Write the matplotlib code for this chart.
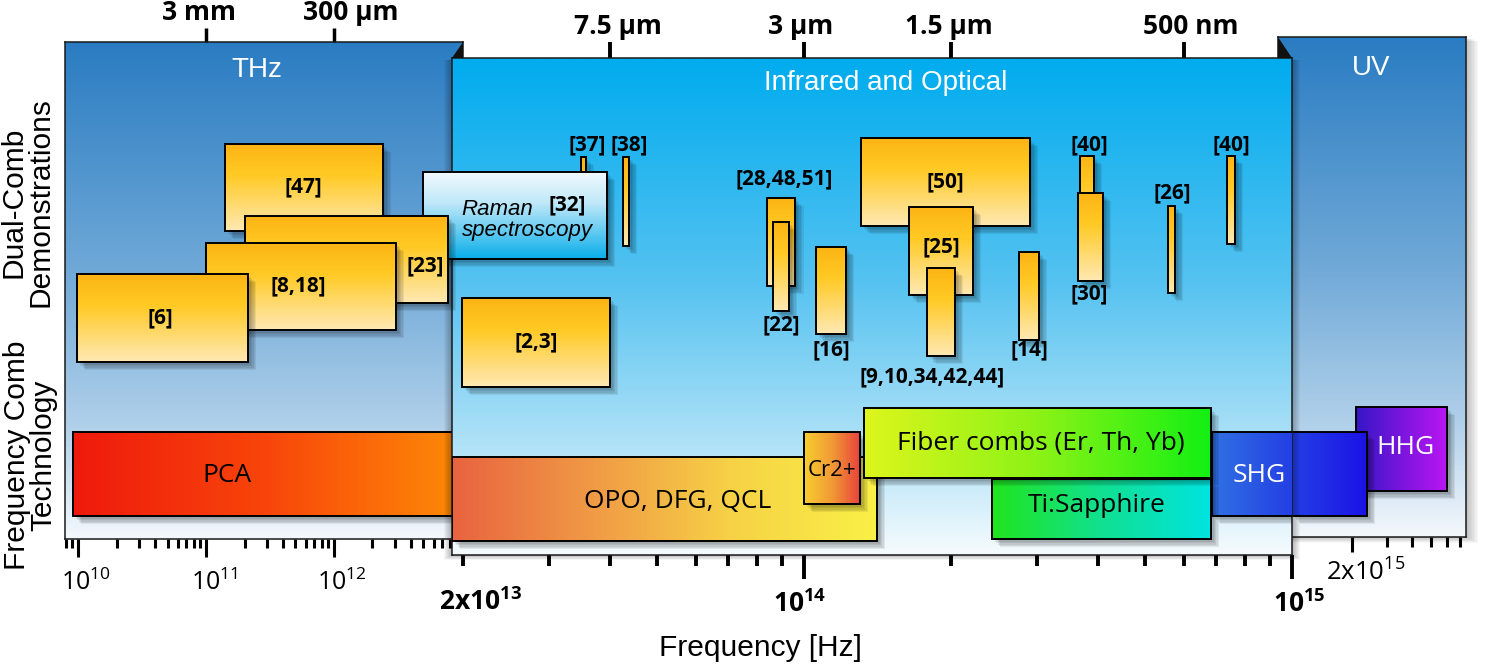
import numpy as np
import matplotlib.pyplot as plt
import matplotlib.patheffects as pe
from matplotlib.colors import LinearSegmentedColormap
from matplotlib.patches import Rectangle, Polygon
from matplotlib.ticker import LogLocator, NullLocator, NullFormatter
from matplotlib.transforms import ScaledTranslation

plt.rcParams['font.family'] = ['Open Sans', 'DejaVu Sans']
plt.rcParams['mathtext.fontset'] = 'custom'
plt.rcParams['mathtext.rm'] = 'Open Sans'
plt.rcParams['mathtext.bf'] = 'Open Sans:bold'
plt.rcParams['mathtext.it'] = 'Open Sans:italic'

# ---------------- data (frequencies in Hz) ----------------
# dual-comb demonstrations in the THz panel
thz_refs = ['[47]', '[23]', '[8,18]', '[6]']
thz_lo = [1.41e11, 2.02e11, 1.0e11, 9.8e9]
thz_hi = [2.4e12, 7.8e12, 3.05e12, 2.13e11]

# dual-comb demonstrations in the infrared / optical panel
ir_refs = ['[37]', '[38]', '[2,3]', '[28,48,51]', '[22]', '[16]', '[50]', '[25]',
           '[9,10,34,42,44]', '[14]', '[40]', '[30]', '[26]', '[40]']
ir_lo = [3.49e13, 4.26e13, 1.99e13, 8.4e13, 8.64e13, 1.06e14, 1.31e14, 1.64e14,
         1.79e14, 2.76e14, 3.68e14, 3.64e14, 5.57e14, 7.36e14]
ir_hi = [3.57e13, 4.38e13, 4.0e13, 9.6e13, 9.31e13, 1.22e14, 2.9e14, 2.22e14,
         2.04e14, 3.03e14, 3.93e14, 4.1e14, 5.76e14, 7.64e14]

raman_lo, raman_hi = 1.66e13, 3.95e13

# frequency comb technologies
tech = ['PCA', 'OPO, DFG, QCL', 'Cr2+', 'Fiber combs (Er, Th, Yb)', 'Ti:Sapphire', 'SHG', 'HHG']
tech_lo = [9.15e9, 1.9e13, 1.0e14, 1.33e14, 2.43e14, 6.86e14, 2.1e15]
tech_hi = [1.02e13, 1.41e14, 1.30e14, 6.82e14, 6.82e14, 2.38e15, 6.0e15]

# wavelength markers on top
wl_labels = ['3 mm', '300 µm', '7.5 µm', '3 µm', '1.5 µm', '500 nm']
wl_m = [3e-3, 300e-6, 7.5e-6, 3e-6, 1.5e-6, 500e-9]
c = 3e8

# ---------------- layout (vertical rows, 0 = top of figure) ----------------
thz_rows = [(144, 231), (216, 303), (243, 330), (274, 362)]
thz_lab = [(5.73e11, 187), (5.14e12, 266), (5.24e11, 286), (4.37e10, 318)]
ir_rows = [(157, 250), (157, 246), (298, 387), (198, 286), (222, 311), (247, 334),
           (138, 226), (207, 295), (268, 356), (252, 340), (156, 240), (193, 281),
           (206, 293), (156, 244)]
ir_lab = [(3.59e13, 145), (4.38e13, 145), (2.83e13, 342), (9.1e13, 179), (9.0e13, 325),
          (1.14e14, 350), (1.95e14, 182), (1.91e14, 247), (1.83e14, 377), (2.9e14, 350),
          (3.85e14, 145), (3.85e14, 294), (5.68e14, 193), (7.5e14, 145)]
raman_rows = (172, 259)
tech_rows = [(432, 516), (457, 541), (432, 504), (408, 478), (479, 539), (432, 516), (407, 491)]
tech_lab = [(1.46e11, 475), (5.5e13, 501), (1.14e14, 471), (3.06e14, 443), (3.98e14, 505),
            (8.55e14, 476), (3.7e15, 447)]

W, H = 1500, 667
fig = plt.figure(figsize=(15, 6.67), dpi=100)


def px_axes(x0, x1, y0, y1, z):
    return fig.add_axes([x0 / W, 1 - y1 / H, (x1 - x0) / W, (y1 - y0) / H], zorder=z)


thz = px_axes(65, 463, 42, 539, 1)
uv = px_axes(1278, 1466, 37, 537, 1)
ir = px_axes(452, 1292, 58, 555, 2)
thz_front = px_axes(65, 463, 42, 539, 3)

for ax, lim, rows in [(thz, (7.9e9, 1.02e13), (539, 42)),
                      (thz_front, (7.9e9, 1.02e13), (539, 42)),
                      (ir, (1.9e13, 1e15), (555, 58)),
                      (uv, (8.5e14, 7.48e15), (537, 37))]:
    ax.set_xscale('log')
    ax.set_xlim(lim)
    ax.set_ylim(rows)
    ax.set_autoscale_on(False)
    ax.set_yticks([])
    for s in ax.spines.values():
        s.set_color('#1a1a1a')
        s.set_linewidth(1.1)
thz_front.set_axis_off()

blue = [(0, '#2a7cc2'), (0.45, '#6ea8d7'), (0.78, '#b2d1ea'), (1, '#f4f8fc')]
cyan = [(0, '#00acee'), (0.45, '#55c2f1'), (0.78, '#b0e2f7'), (1, '#f6fbfe')]
grad = np.linspace(0, 1, 256).reshape(-1, 1)
for ax, stops in [(thz, blue), (uv, blue), (ir, cyan)]:
    ax.imshow(grad, extent=(0, 1, 0, 1), transform=ax.transAxes, aspect='auto',
              cmap=LinearSegmentedColormap.from_list('p', stops), zorder=0,
              interpolation='bilinear')

# panel shadows and bevels
fig_px = fig.transFigure


def fig_rect(x0, y0, x1, y1, **kw):
    fig.add_artist(Rectangle((x0 / W, 1 - y1 / H), (x1 - x0) / W, (y1 - y0) / H,
                             transform=fig_px, **kw))


for k in range(1, 9):
    fig_rect(452 - k, 58 + k * 0.3, 1292 + k, 555 + k * 0.6, fc='k', ec='none', alpha=0.035, zorder=1.9)
    fig_rect(1278, 37 + k * 0.5, 1466 + k * 1.5, 537 + k * 0.7, fc='k', ec='none', alpha=0.03, zorder=0.9)

fig.add_artist(Polygon([(452 / W, 1 - 58 / H), (463 / W, 1 - 42 / H), (463 / W, 1 - 58 / H)],
                       transform=fig_px, fc='#111', ec='none', zorder=2.1))
fig.add_artist(Polygon([(1278 / W, 1 - 37 / H), (1278 / W, 1 - 58 / H), (1292 / W, 1 - 58 / H)],
                       transform=fig_px, fc='#111', ec='none', zorder=2.1))

shadow_fx = [pe.SimplePatchShadow(offset=(o, -o), shadow_rgbFace='k', alpha=0.07)
             for o in (1, 2, 3, 4, 5, 6)]


def bar(ax, lo, hi, rows, stops, horizontal, z, g=(0, 1), sides='ltrb', clip=True):
    top, bot = rows
    cmap = LinearSegmentedColormap.from_list('b', stops)
    n = 96
    if horizontal:
        xe, ye = np.geomspace(lo, hi, n + 1), np.array([top, bot])
        cv = np.linspace(g[0], g[1], n).reshape(1, -1)
    else:
        xe, ye = np.array([lo, hi]), np.linspace(top, bot, n + 1)
        cv = np.linspace(g[0], g[1], n).reshape(-1, 1)
    ax.add_patch(Rectangle((lo, top), hi - lo, bot - top, fc='k', ec='none', zorder=z,
                           path_effects=shadow_fx, clip_on=clip))
    ax.pcolormesh(xe, ye, cv, cmap=cmap, vmin=0, vmax=1, shading='flat', antialiased=False,
                  linewidth=0, zorder=z + 0.1, clip_on=clip)
    if sides == 'ltrb':
        ax.add_patch(Rectangle((lo, top), hi - lo, bot - top, fc='none', ec='k', lw=1.4,
                               zorder=z + 0.2, clip_on=clip))
    elif sides == 'ltb':
        ax.plot([hi, lo, lo, hi], [top, top, bot, bot], color='k', lw=1.4, zorder=z + 0.2,
                solid_joinstyle='miter')
    else:
        ax.plot([lo, hi, hi, lo], [top, top, bot, bot], color='k', lw=1.4, zorder=z + 0.2,
                solid_joinstyle='miter')


dual = [(0, '#fbb414'), (0.35, '#ffc923'), (1, '#fee8b2')]
tech_cols = [['#ee1a0c', '#f8450a', '#fd8a06'],
             ['#e8643f', '#f09a45', '#f6d245', '#f9ef46'],
             ['#f7cd2e', '#f19a35', '#e8453b'],
             ['#dcf51c', '#8cf216', '#14ef13'],
             ['#20e41e', '#10e090', '#00e3e0'],
             ['#3070e2', '#2340e4', '#1b12e6'],
             ['#3516c6', '#7a15dd', '#b815f2']]

lab_kw = dict(ha='center', va='center', fontsize=15, fontweight='bold', zorder=100)

# THz dual-comb boxes
for i, (ref, lo, hi) in enumerate(zip(thz_refs, thz_lo, thz_hi)):
    bar(thz_front, lo, hi, thz_rows[i], dual, False, 3 + i)
    thz_front.text(thz_lab[i][0], thz_lab[i][1], ref, **lab_kw)

# IR dual-comb boxes
for i, (ref, lo, hi) in enumerate(zip(ir_refs, ir_lo, ir_hi)):
    bar(ir, lo, hi, ir_rows[i], dual, False, 3 + i)
    ir.text(ir_lab[i][0], ir_lab[i][1], ref, **lab_kw)

# Raman box (reaches over the THz panel edge)
raman_cols = [(0, '#f0f9fd'), (0.35, '#bfe8f8'), (1, '#0aaee9')]
bar(ir, raman_lo, raman_hi, raman_rows, raman_cols, False, 30, clip=False)
raman_kw = dict(ha='left', va='baseline', fontsize=16, style='italic',
                family=['Liberation Sans'], zorder=100)
ir.text(1.99e13, 215, 'Raman', **raman_kw)
ir.text(1.99e13, 236, 'spectroscopy', **raman_kw)
ir.text(3.27e13, 205, '[32]', **lab_kw)

# technology bars
z_tech = {0: (thz, 3), 1: (ir, 40), 2: (ir, 41), 3: (ir, 46), 4: (ir, 45), 6: (uv, 3)}
for i in z_tech:
    ax, z = z_tech[i]
    bar(ax, tech_lo[i], tech_hi[i], tech_rows[i], tech_cols[i], True, z)

# SHG straddles the IR / UV panel boundary at 1e15 Hz
split = 1e15
px_left = (np.log10(split) - np.log10(tech_lo[5])) * 488
px_right = (np.log10(tech_hi[5]) - np.log10(split)) * 199
gsplit = px_left / (px_left + px_right)
bar(ir, tech_lo[5], split, tech_rows[5], tech_cols[5], True, 43, g=(0, gsplit), sides='ltb')
bar(uv, split, tech_hi[5], tech_rows[5], tech_cols[5], True, 10, g=(gsplit, 1), sides='trb')

tech_ax = [thz, ir, ir, ir, ir, ir, uv]
for i, name in enumerate(tech):
    col = 'white' if name in ('SHG', 'HHG') else 'black'
    fs = 16 if name == 'Cr2+' else 19
    tech_ax[i].text(tech_lab[i][0], tech_lab[i][1], name, ha='center', va='center',
                    fontsize=fs, color=col, zorder=100)

# panel titles
title_kw = dict(ha='center', va='center', fontsize=20, color='white',
                family=['Liberation Sans'], zorder=100)
thz.text(2.5e11, 70, 'THz', **title_kw)
ir.text(1.47e14, 83, 'Infrared and Optical', **title_kw)
uv.text(2.5e15, 68, 'UV', **title_kw)


# bottom frequency ticks
def shift_labels(labels, dxs):
    for lab, dx in zip(labels, dxs):
        lab.set_transform(lab.get_transform() + ScaledTranslation(dx / 100, 0, fig.dpi_scale_trans))


thz.set_xticks([1e10, 1e11, 1e12], labels=[r'$\mathrm{10^{10}}$', r'$\mathrm{10^{11}}$',
                                           r'$\mathrm{10^{12}}$'])
thz.xaxis.set_minor_locator(LogLocator(base=10, subs=np.arange(2, 10), numticks=20))
thz.xaxis.set_minor_formatter(NullFormatter())
thz.tick_params(axis='x', which='major', length=13, width=2.2, pad=9, labelsize=18)
thz.tick_params(axis='x', which='minor', length=6.5, width=2.2)
shift_labels(thz.get_xticklabels(), [8, 8, 8])

ir_minor = [2e13, 3e13, 4e13, 5e13, 6e13, 7e13, 8e13, 9e13,
            2e14, 3e14, 4e14, 5e14, 6e14, 7e14, 8e14, 9e14]
ir.set_xticks([1e14, 1e15], labels=[r'$\mathbf{10^{14}}$', r'$\mathbf{10^{15}}$'])
ir.set_xticks(ir_minor, labels=[r'$\mathbf{2x10^{13}}$'] + [''] * 15, minor=True)
ir.tick_params(axis='x', which='major', length=17, width=2.8, pad=8, labelsize=19)
ir.tick_params(axis='x', which='minor', length=8, width=2.8, pad=16, labelsize=19)
shift_labels(ir.get_xticklabels(), [-4, 7])
shift_labels(ir.get_xticklabels(minor=True)[:1], [18])

uv.set_xticks([2e15], labels=[r'$\mathrm{2x10^{15}}$'])
uv.set_xticks([3e15, 4e15, 5e15, 6e15, 7e15], minor=True)
uv.xaxis.set_minor_formatter(NullFormatter())
uv.tick_params(axis='x', which='major', length=11, width=2.2, pad=5, labelsize=18.5)
uv.tick_params(axis='x', which='minor', length=7, width=2.2)
shift_labels(uv.get_xticklabels(), [14])

# top wavelength ticks
wl_freq = [c / w for w in wl_m]
wl_shift = [-7, 17, 8, -3, -2, 7]
for ax, idx, ln, wd in [(thz, [0, 1], 10, 2.5), (ir, [2, 3, 4, 5], 11.5, 2.8)]:
    sec = ax.secondary_xaxis('top')
    sec.set_xticks([wl_freq[j] for j in idx], labels=[wl_labels[j] for j in idx])
    sec.xaxis.set_minor_locator(NullLocator())
    sec.tick_params(axis='x', length=ln, width=wd, pad=1.5, labelsize=19)
    for t in sec.get_xticklabels():
        t.set_fontweight('bold')
    shift_labels(sec.get_xticklabels(), [wl_shift[j] for j in idx])
    sec.spines['top'].set_visible(False)

# axis titles
fig.text(27 / W, 1 - 202 / H, 'Dual-Comb\nDemonstrations', rotation=90, ha='center',
         va='center', fontsize=21.5, family=['Liberation Sans'], linespacing=0.95)
fig.text(30 / W, 1 - 455 / H, 'Frequency Comb\nTechnology', rotation=90, ha='center',
         va='center', fontsize=21.5, family=['Liberation Sans'], linespacing=0.92)
fig.text(760 / W, 1 - 648 / H, 'Frequency [Hz]', ha='center', va='center', fontsize=21.5,
         family=['Liberation Sans'])

fig.savefig('out.png', dpi=100)
